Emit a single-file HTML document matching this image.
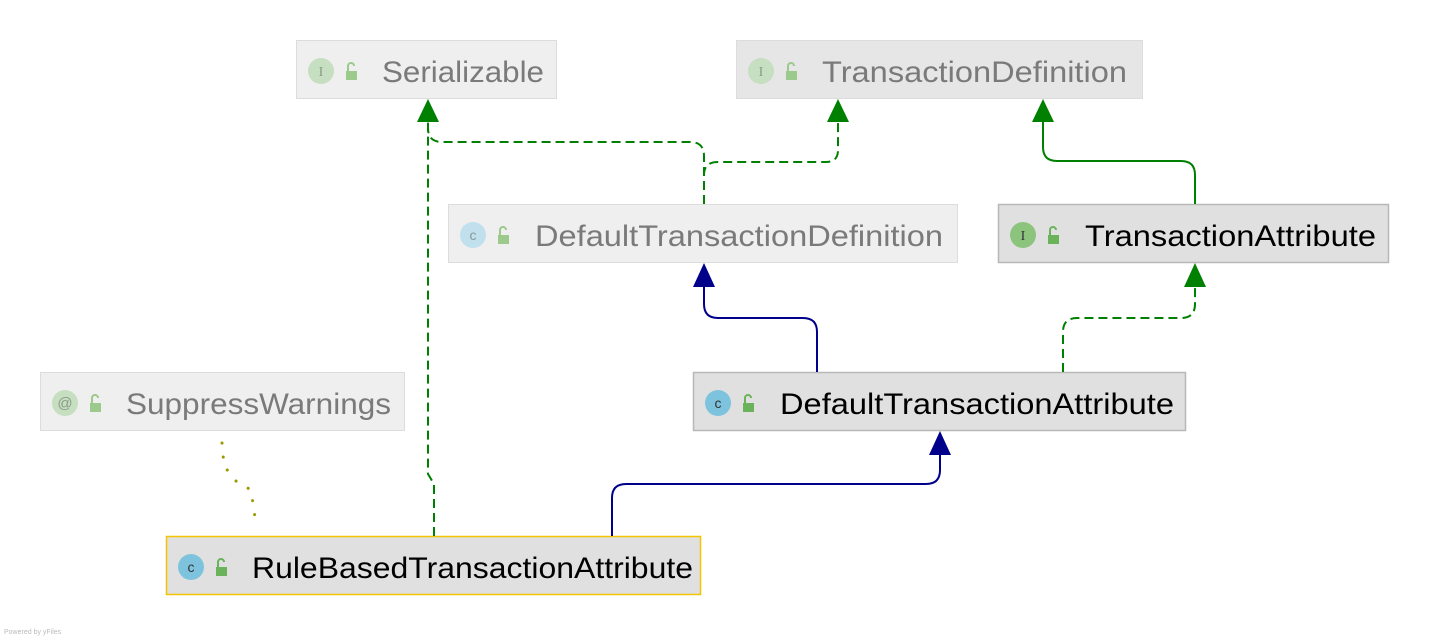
<!DOCTYPE html>
<html><head><meta charset="utf-8"><style>html,body{margin:0;padding:0;background:#fff;}svg{display:block}</style></head>
<body>
<svg width="1430" height="640" xmlns="http://www.w3.org/2000/svg" font-family="Liberation Sans, sans-serif">
<defs>
<g id="lockg"><rect x="0" y="-3" width="11" height="9" fill="#9cc98c"/><path d="M2 -3 V-8 a3 3 0 0 1 6 0" fill="none" stroke="#9cc98c" stroke-width="2"/></g>
<g id="lockd"><rect x="0" y="-3" width="11" height="9" fill="#6bb35a"/><path d="M2 -3 V-8 a3 3 0 0 1 6 0" fill="none" stroke="#6bb35a" stroke-width="2"/></g>
</defs>
<!-- boxes -->
<rect x="296.5" y="40.5" width="260" height="58" fill="#efefef" stroke="#dcdcdc"/>
<rect x="736.5" y="40.5" width="406" height="58" fill="#e6e6e6" stroke="#dcdcdc"/>
<rect x="448.5" y="204.5" width="509" height="58" fill="#efefef" stroke="#dcdcdc"/>
<rect x="998.5" y="204.5" width="390" height="58" fill="#e0e0e0" stroke="#b8b8b8" stroke-width="1.5"/>
<rect x="40.5" y="372.5" width="364" height="58" fill="#efefef" stroke="#dcdcdc"/>
<rect x="693.5" y="372.5" width="492" height="58" fill="#e0e0e0" stroke="#b8b8b8" stroke-width="1.5"/>
<rect x="166.5" y="536.5" width="534" height="58" fill="#e0e0e0" stroke="#f5c400" stroke-width="1.5"/>
<!-- icons -->
<circle cx="321" cy="71" r="13" fill="#c5dfc0"/><text x="321" y="76" font-size="14" fill="#8a9a88" text-anchor="middle" font-family="Liberation Serif, serif">I</text><use href="#lockg" x="346" y="74"/>
<circle cx="761" cy="71" r="13" fill="#c5dfc0"/><text x="761" y="76" font-size="14" fill="#8a9a88" text-anchor="middle" font-family="Liberation Serif, serif">I</text><use href="#lockg" x="786" y="74"/>
<circle cx="473" cy="235" r="13" fill="#bfe0ec"/><text x="473" y="240" font-size="14" fill="#8a9a9a" text-anchor="middle">c</text><use href="#lockg" x="498" y="238"/>
<circle cx="1023" cy="235" r="13" fill="#8cc47e"/><text x="1023" y="240" font-size="14" fill="#333" text-anchor="middle" font-family="Liberation Serif, serif">I</text><use href="#lockd" x="1048" y="238"/>
<circle cx="65" cy="403" r="13" fill="#c5dfc0"/><text x="65" y="408" font-size="15" fill="#8a9a88" text-anchor="middle">@</text><use href="#lockg" x="90" y="406"/>
<circle cx="718" cy="403" r="13" fill="#7ec3dd"/><text x="718" y="408" font-size="14" fill="#333" text-anchor="middle">c</text><use href="#lockd" x="743" y="406"/>
<circle cx="191" cy="567" r="13" fill="#7ec3dd"/><text x="191" y="572" font-size="14" fill="#333" text-anchor="middle">c</text><use href="#lockd" x="216" y="570"/>
<!-- labels -->
<g font-size="30">
<text x="382" y="82" fill="#7a7a7a" textLength="162" lengthAdjust="spacingAndGlyphs">Serializable</text>
<text x="822" y="82" fill="#7a7a7a" textLength="305" lengthAdjust="spacingAndGlyphs">TransactionDefinition</text>
<text x="535" y="246" fill="#7a7a7a" textLength="408" lengthAdjust="spacingAndGlyphs">DefaultTransactionDefinition</text>
<text x="1085" y="246" fill="#000" textLength="291" lengthAdjust="spacingAndGlyphs">TransactionAttribute</text>
<text x="126" y="414" fill="#7a7a7a" textLength="265" lengthAdjust="spacingAndGlyphs">SuppressWarnings</text>
<text x="780" y="414" fill="#000" textLength="394" lengthAdjust="spacingAndGlyphs">DefaultTransactionAttribute</text>
<text x="252" y="578" fill="#000" textLength="441" lengthAdjust="spacingAndGlyphs">RuleBasedTransactionAttribute</text>
</g>
<!-- connectors -->
<g fill="none" stroke-width="2">
<path d="M434 536 V484 L428 474 V120" stroke="#008000" stroke-dasharray="9,5"/>
<path d="M704 204 V156 Q704 142 690 142 H442 Q428 142 428 128 V120" stroke="#008000" stroke-dasharray="9,5"/>
<path d="M704 190 V175 Q704 162 718 162 H826 Q838 162 838 150 V120" stroke="#008000" stroke-dasharray="9,5"/>
<path d="M1195 204 V175 Q1195 161 1181 161 H1057 Q1043 161 1043 147 V120" stroke="#008000"/>
<path d="M817 372 V332 Q817 318 803 318 H718 Q704 318 704 304 V285" stroke="#00008b"/>
<path d="M1063 372 V332 Q1063 318 1077 318 H1181 Q1195 318 1195 304 V285" stroke="#008000" stroke-dasharray="9,5"/>
<path d="M612 536 V498 Q612 484 626 484 H926 Q940 484 940 470 V452" stroke="#00008b"/>
<path d="M222 443 L224 466 L236 481 L251 490 L256 524" stroke="#999900" stroke-width="3" stroke-dasharray="0.1,14" stroke-linecap="round"/>
</g>
<!-- arrowheads -->
<polygon points="428,99 417,122 439,122" fill="#008000"/>
<polygon points="838,99 827,122 849,122" fill="#008000"/>
<polygon points="1043,99 1032,122 1054,122" fill="#008000"/>
<polygon points="704,263 693,287 715,287" fill="#00008b"/>
<polygon points="1195,263 1184,287 1206,287" fill="#008000"/>
<polygon points="940,431 929,455 951,455" fill="#00008b"/>
<text x="4" y="634" font-size="7" fill="#bbb">Powered by yFiles</text>
</svg>
</body></html>
